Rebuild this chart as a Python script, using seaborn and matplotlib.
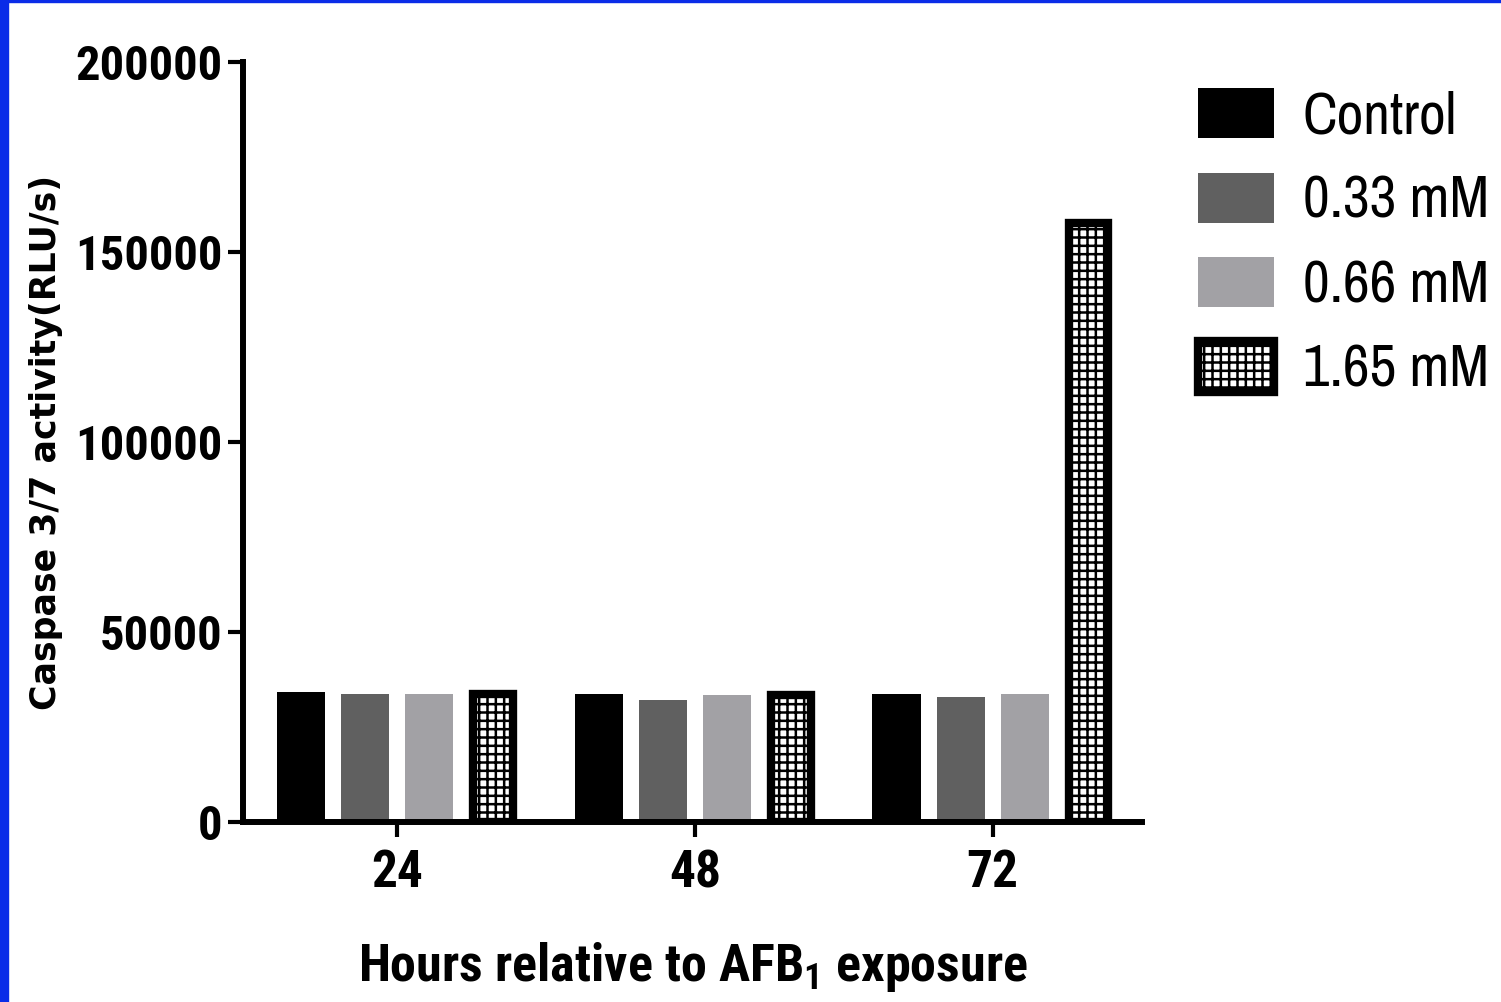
import numpy as np
import pandas as pd
import matplotlib
matplotlib.use("Agg")
import matplotlib.pyplot as plt
from matplotlib.patches import Rectangle
import seaborn as sns

hours = ["24", "48", "72"]
doses = ["Control", "0.33 mM", "0.66 mM", "1.65 mM"]
control = [34200, 33700, 33700]
dose_033 = [33700, 32100, 32900]
dose_066 = [33700, 33400, 33700]
dose_165 = [33700, 33400, 157600]

colors = ["#000000", "#606060", "#a2a1a5", "#ffffff"]

df = pd.DataFrame({
    "hours": hours * 4,
    "dose": [d for d in doses for _ in hours],
    "value": control + dose_033 + dose_066 + dose_165,
})

sns.set_theme(style="ticks")
plt.rcParams["font.family"] = ["Archivo Narrow", "Liberation Sans", "DejaVu Sans"]
plt.rcParams["mathtext.default"] = "regular"
plt.rcParams["hatch.linewidth"] = 1.8
plt.rcParams["hatch.color"] = "black"
plt.rcParams["text.color"] = "black"
bold_narrow = ["Roboto Condensed", "Liberation Sans", "DejaVu Sans"]

fig = plt.figure(figsize=(15.01, 10.02), dpi=100)
ax = fig.add_axes([0.162, 0.1796, 0.599, 0.7584])

sns.barplot(data=df, x="hours", y="value", hue="dose", order=hours, hue_order=doses,
            palette=colors, width=0.86, gap=0.25, errorbar=None, ax=ax,
            saturation=1, legend=False)

for i, cont in enumerate(ax.containers):
    for p in cont:
        if i == 3:
            p.set_hatch("++")
            p.set_edgecolor("black")
            p.set_linewidth(6)
            # keep the outer edge inside the same footprint as the other bars
            p.set_x(p.get_x() + 0.014)
            p.set_width(p.get_width() - 0.028)
        else:
            p.set_edgecolor("none")

ax.set_xlim(-0.517, 2.503)
ax.set_ylim(0, 200000)
ax.set_yticks([0, 50000, 100000, 150000, 200000])
ax.set_yticklabels(["0", "50000", "100000", "150000", "200000"])
sns.despine(ax=ax)
for s in ["left", "bottom"]:
    ax.spines[s].set_linewidth(4.3)
    ax.spines[s].set_color("black")
ax.tick_params(axis="both", length=11, width=3, color="black", direction="out")
ax.tick_params(axis="y", pad=4)
ax.tick_params(axis="x", pad=8)
for lab in ax.get_yticklabels():
    lab.set_fontsize(35)
    lab.set_fontweight("bold")
    lab.set_family(bold_narrow)
    lab.set_color("black")
for lab in ax.get_xticklabels():
    lab.set_fontsize(37)
    lab.set_fontweight("bold")
    lab.set_family(bold_narrow)
    lab.set_color("black")

ax.set_xlabel("Hours relative to AFB$_1$ exposure", fontsize=37.5, fontweight="bold",
              family=bold_narrow, color="black")
ax.xaxis.set_label_coords(0.5, -0.155)
ax.set_ylabel("Caspase 3/7 activity(RLU/s)", fontsize=25, fontweight="bold",
              family="DejaVu Sans", color="black")
ax.yaxis.set_label_coords(-0.20, 0.5)

handles = [cont.patches[0] for cont in ax.containers]
fig.legend(handles, doses, loc="upper left", bbox_to_anchor=(0.798, 0.912),
           frameon=False, fontsize=42, handlelength=1.3, handleheight=0.95,
           labelspacing=0.5, handletextpad=0.5, borderpad=0, borderaxespad=0,
           labelcolor="black")

fig.patches.append(Rectangle((0, 0), 0.005, 1, transform=fig.transFigure,
                             color="#0a2ce8", zorder=10))
fig.patches.append(Rectangle((0, 0.998), 1, 0.002, transform=fig.transFigure,
                             color="#0a2ce8", zorder=10))

fig.savefig("out.png", dpi=100, facecolor="white")
